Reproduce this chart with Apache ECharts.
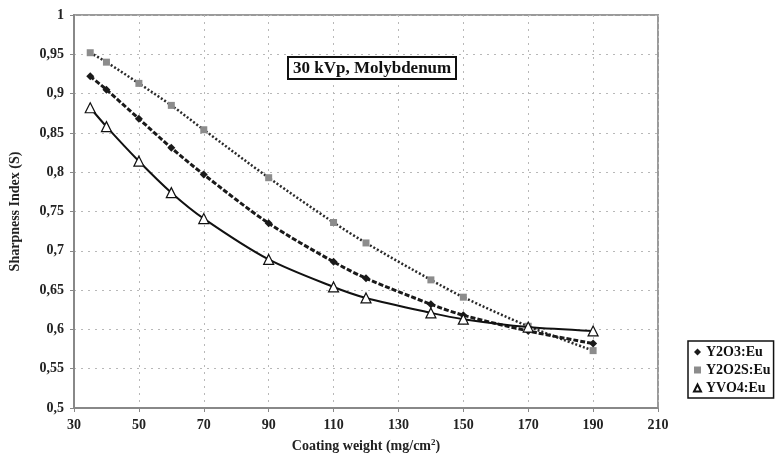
<!DOCTYPE html>
<html>
<head>
<meta charset="utf-8">
<script src="https://cdn.jsdelivr.net/npm/echarts@6/dist/echarts.min.js"></script>
<style>
  html, body { margin: 0; padding: 0; background: #fff; }
  #main { width: 778px; height: 464px; }
</style>
</head>
<body>
<div id="main"></div>
<script>
// coating weight (mg/cm2)
var weights = [35, 40, 50, 60, 70, 90, 110, 120, 140, 150, 170, 190];
var y2o3 = [0.922, 0.905, 0.868, 0.831, 0.797, 0.735, 0.686, 0.665, 0.632, 0.618, 0.598, 0.582];
var y2o2s = [0.952, 0.940, 0.913, 0.885, 0.854, 0.793, 0.736, 0.710, 0.663, 0.641, 0.604, 0.573];
var yvo4 = [0.882, 0.858, 0.814, 0.774, 0.741, 0.689, 0.654, 0.640, 0.621, 0.613, 0.603, 0.598];

var serif = '"Liberation Serif", "DejaVu Serif", serif';

function pairs(ys) {
  var out = [];
  for (var i = 0; i < weights.length; i++) {
    out.push([weights[i], ys[i]]);
  }
  return out;
}

var myChart = echarts.init(document.getElementById('main'));

myChart.setOption({
  animation: false,
  title: {
    text: '30 kVp, Molybdenum',
    left: 288,
    top: 57,
    padding: [3, 5, 2, 5],
    borderColor: '#111',
    borderWidth: 2,
    backgroundColor: '#fff',
    textStyle: {fontFamily: serif, fontWeight: 'bold', fontSize: 17, color: '#111'}
  },
  legend: {
    orient: 'vertical',
    left: 688,
    top: 341,
    padding: [4, 3, 3, 5],
    itemGap: 4,
    itemWidth: 7,
    itemHeight: 7,
    borderColor: '#111',
    borderWidth: 1.5,
    textStyle: {fontFamily: serif, fontWeight: 'bold', fontSize: 14, color: '#111', padding: [0, 0, 0, 0]},
    data: [
      {name: 'Y2O3:Eu', icon: 'diamond'},
      {name: 'Y2O2S:Eu', icon: 'rect'},
      {name: 'YVO4:Eu', icon: 'triangle'}
    ]
  },
  grid: {
    left: 74,
    right: 120,
    top: 15,
    bottom: 56,
    outerBoundsMode: 'none',
    show: true,
    borderColor: '#9a9a9a',
    borderWidth: 2
  },
  xAxis: {
    type: 'value',
    min: 30,
    max: 210,
    interval: 20,
    name: 'Coating weight (mg/cm{sup|2})',
    nameLocation: 'middle',
    nameGap: 30,
    nameTextStyle: {
      fontFamily: serif, fontWeight: 'bold', fontSize: 14, color: '#222',
      rich: {sup: {fontFamily: serif, fontWeight: 'bold', fontSize: 9, verticalAlign: 'top', padding: [0, 0, 8, 0], color: '#222'}}
    },
    axisLine: {lineStyle: {color: '#888', width: 2}},
    axisTick: {show: true, length: 4, lineStyle: {color: '#888'}},
    axisLabel: {fontFamily: serif, fontWeight: 'bold', fontSize: 14, color: '#222', margin: 10},
    splitLine: {show: true, lineStyle: {color: '#b8b8b8', type: [2, 5], width: 1}}
  },
  yAxis: {
    type: 'value',
    min: 0.5,
    max: 1,
    interval: 0.05,
    name: 'Sharpness Index (S)',
    nameLocation: 'middle',
    nameGap: 52,
    nameTextStyle: {fontFamily: serif, fontWeight: 'bold', fontSize: 14, color: '#222'},
    axisLine: {show: true, lineStyle: {color: '#888', width: 2}},
    axisTick: {show: true, length: 4, lineStyle: {color: '#888'}},
    axisLabel: {
      fontFamily: serif, fontWeight: 'bold', fontSize: 14, color: '#222', margin: 10,
      formatter: function (v) {
        return String(Math.round(v * 100) / 100).replace('.', ',');
      }
    },
    splitLine: {show: true, lineStyle: {color: '#b8b8b8', type: [2, 5], width: 1}}
  },
  series: [
    {
      name: 'Y2O3:Eu',
      type: 'line',
      smooth: 0.3,
      data: pairs(y2o3),
      symbol: 'diamond',
      symbolSize: 8,
      itemStyle: {color: '#1a1a1a'},
      lineStyle: {color: '#1a1a1a', width: 3, type: [5, 2]},
      z: 3
    },
    {
      name: 'Y2O2S:Eu',
      type: 'line',
      smooth: 0.3,
      data: pairs(y2o2s),
      symbol: 'rect',
      symbolSize: 7,
      itemStyle: {color: '#8c8c8c'},
      lineStyle: {color: '#2a2a2a', width: 2.5, type: [2, 2]},
      z: 2
    },
    {
      name: 'YVO4:Eu',
      type: 'line',
      smooth: 0.3,
      data: pairs(yvo4),
      symbol: 'triangle',
      symbolSize: 10,
      itemStyle: {color: '#fff', borderColor: '#111', borderWidth: 1.2},
      lineStyle: {color: '#111', width: 2, type: 'solid'},
      z: 4
    }
  ]
});
</script>
</body>
</html>
